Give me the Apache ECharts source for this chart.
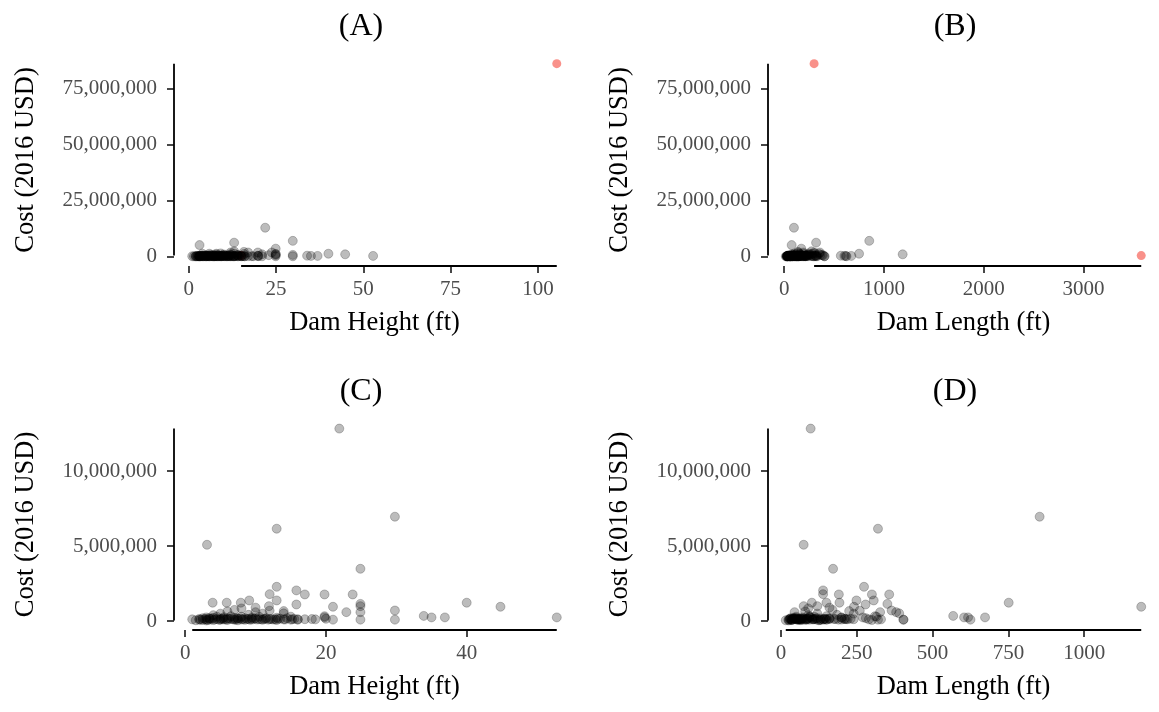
<!DOCTYPE html>
<html>
<head>
<meta charset="utf-8">
<script src="https://cdn.jsdelivr.net/npm/echarts@6/dist/echarts.min.js"></script>
<style>html,body{margin:0;padding:0;background:#fff}#chart{width:1159px;height:712px}</style>
</head>
<body>
<div id="chart"></div>
<script>
// ---- Data ----
// Dams shown in grey (one entry per dam): height (ft), length (ft), cost (2016 USD)
const heightFt = [
  21.9, 29.8, 13.0, 3.1, 24.9, 13.0, 15.8, 12.0, 17.0, 19.8, 23.8, 13.0, 9.1, 3.9, 5.9, 7.9, 40.0,
  24.9, 15.8, 44.8, 21.0, 24.9, 11.9, 10.0, 22.9, 29.8, 24.9, 14.0, 33.9, 35.0, 36.9, 52.8, 29.8, 24.9,
  1.0, 1.5, 2.0, 2.0, 2.5, 2.5, 3.0, 3.0, 3.0, 3.5, 3.5, 4.0, 4.0, 4.0, 4.5, 4.5, 5.0, 5.0, 5.0,
  5.5, 5.5, 6.0, 6.0, 6.0, 6.5, 6.5, 7.0, 7.0, 7.0, 7.5, 7.5, 8.0, 8.0, 8.0, 8.5, 8.5, 9.0, 9.0,
  9.5, 9.5, 10.0, 10.0, 10.5, 10.5, 11.0, 11.0, 11.5, 12.0, 12.0, 12.5, 13.0, 13.0, 13.5, 14.0, 14.0,
  14.5, 15.0, 15.0, 15.5, 16.0, 16.0, 17.0, 18.0, 18.5, 19.8, 19.8, 20.0, 21.0,
  2.2, 2.8, 3.2, 3.8, 4.2, 4.8, 5.2, 5.8, 6.2, 6.8, 7.2, 7.8, 8.2, 8.8, 9.2, 9.8, 10.2, 10.8,
  11.2, 11.8, 12.2, 12.8, 13.2, 14.2, 15.2, 3.4, 5.4, 7.4, 9.4, 11.4
];
const lengthFt = [
  98, 853, 320, 75, 172, 274, 139, 139, 191, 300, 357, 249, 306, 102, 150, 193, 751,
  351, 279, 1188, 241, 75, 120, 160, 327, 365, 380, 390, 568, 604, 617, 673, 625, 404,
  25, 16, 30, 55, 45, 35, 60, 70, 25, 40, 85, 50, 65, 90, 30, 110, 45, 75, 120,
  55, 95, 40, 130, 80, 60, 150, 35, 100, 170, 70, 125, 50, 140, 90, 160, 65, 110, 185,
  80, 200, 130, 45, 215, 95, 150, 240, 120, 175, 260, 85, 200, 300, 145, 225, 105,
  280, 190, 315, 160, 330, 404, 240, 210, 290, 310, 270, 230, 320,
  35, 50, 28, 45, 60, 38, 70, 55, 85, 48, 95, 75, 110, 65, 120, 90, 140, 105,
  160, 130, 180, 150, 210, 200, 220, 32, 62, 88, 115, 145
];
const costUSD = [
  12830000, 6960000, 6160000, 5090000, 3490000, 2290000, 2050000, 1800000, 1780000, 1780000, 1780000,
  1380000, 1380000, 1230000, 1230000, 1230000, 1230000,
  1150000, 1110000, 960000, 960000, 1000000, 1000000, 900000, 600000, 710000, 600000, 520000,
  350000, 250000, 250000, 250000, 100000, 100000,
  120000, 60000, 150000, 90000, 200000, 80000, 130000, 250000, 50000, 180000, 100000, 220000, 70000,
  400000, 140000, 300000, 160000, 90000, 500000,
  110000, 260000, 190000, 80000, 650000, 140000, 330000, 100000, 220000, 750000, 170000, 60000,
  300000, 120000, 850000, 200000, 90000, 150000, 420000,
  110000, 250000, 180000, 600000, 130000, 300000, 90000, 500000, 200000, 140000, 700000, 110000,
  230000, 80000, 160000, 670000, 120000,
  200000, 100000, 300000, 150000, 120000, 100000, 130000, 140000, 120000, 330000, 250000, 160000, 100000,
  100000, 140000, 80000, 160000, 120000, 90000, 150000, 110000, 170000, 130000, 100000, 180000,
  120000, 140000, 90000, 160000, 110000, 130000, 150000, 100000, 140000, 120000, 160000, 110000,
  130000, 200000, 180000, 190000, 170000, 150000
];
// Outlier dams highlighted in red in panels A and B
const outlierHeightFt = [105.4, 15.0];
const outlierLengthFt = [300, 3580];
const outlierCostUSD = [86000000, 400000];

// Tick labels
const ticksA_x = [0, 25, 50, 75, 100];
const ticksB_x = [0, 1000, 2000, 3000];
const ticksC_x = [0, 20, 40];
const ticksD_x = [0, 250, 500, 750, 1000];
const ticksAB_y = [0, 25000000, 50000000, 75000000];
const ticksCD_y = [0, 5000000, 10000000];

const panelTitles = ['(A)', '(B)', '(C)', '(D)'];
const xTitles = ['Dam Height (ft)', 'Dam Length (ft)', 'Dam Height (ft)', 'Dam Length (ft)'];
const yTitle = 'Cost (2016 USD)';

// ---- helpers ----
const zip = (a, b) => a.map((v, i) => [v, b[i]]);
function padRange(vals) {
  const lo = Math.min(...vals), hi = Math.max(...vals), p = (hi - lo) * 0.05;
  return [lo - p, hi + p];
}
const fmtComma = v => String(Math.round(v)).replace(/\B(?=(\d{3})+(?!\d))/g, ',');
const fmtPlain = v => String(Math.round(v));

const SERIF = 'Liberation Serif, Times New Roman, serif';
const grids = [
  { left: 174, top: 54, width: 401, height: 212 },
  { left: 768, top: 54, width: 401, height: 212 },
  { left: 174, top: 419, width: 401, height: 211 },
  { left: 768, top: 419, width: 401, height: 211 }
];

const panels = [
  { x: heightFt, y: costUSD, ox: outlierHeightFt, oy: outlierCostUSD, xt: ticksA_x, yt: ticksAB_y, frameFromOutliers: true },
  { x: lengthFt, y: costUSD, ox: outlierLengthFt, oy: outlierCostUSD, xt: ticksB_x, yt: ticksAB_y, frameFromOutliers: true },
  { x: heightFt, y: costUSD, ox: [], oy: [], xt: ticksC_x, yt: ticksCD_y, frameFromOutliers: false },
  { x: lengthFt, y: costUSD, ox: [], oy: [], xt: ticksD_x, yt: ticksCD_y, frameFromOutliers: false }
];

const xAxes = [], yAxes = [], series = [], titles = [];
const titleCenters = [[356, 6], [950, 6], [356, 371], [950, 371]];
const lineColor = '#000';

panels.forEach((p, i) => {
  const xr = padRange(p.x.concat(p.ox));
  const yr = padRange(p.y.concat(p.oy));
  const fx = p.frameFromOutliers ? p.ox : p.x;
  const fy = p.frameFromOutliers ? p.oy : p.y;
  xAxes.push({
    gridIndex: i, type: 'value', min: xr[0], max: xr[1], position: 'bottom',
    axisLine: { show: false, onZero: false },
    splitLine: { show: false },
    axisTick: { show: true, length: 7, customValues: p.xt, lineStyle: { color: '#333', width: 1.8 } },
    axisLabel: { customValues: p.xt, margin: 13, color: '#4D4D4D', fontFamily: SERIF, fontSize: 21, formatter: fmtPlain },
    name: xTitles[i], nameLocation: 'middle', nameGap: 44,
    nameTextStyle: { color: '#000', fontFamily: SERIF, fontSize: 26.5 }
  });
  yAxes.push({
    gridIndex: i, type: 'value', min: yr[0], max: yr[1], position: 'left',
    axisLine: { show: false, onZero: false },
    splitLine: { show: false },
    axisTick: { show: true, length: 7, customValues: p.yt, lineStyle: { color: '#333', width: 1.8 } },
    axisLabel: { customValues: p.yt, margin: 17, color: '#4D4D4D', fontFamily: SERIF, fontSize: 21, formatter: fmtComma },
    name: yTitle, nameLocation: 'middle', nameGap: 134,
    nameTextStyle: { color: '#000', fontFamily: SERIF, fontSize: 26.5 }
  });
  // red highlighted dams (drawn underneath)
  if (p.ox.length) {
    series.push({
      type: 'scatter', xAxisIndex: i, yAxisIndex: i, z: 1,
      data: zip(p.ox, p.oy), symbolSize: 9, silent: true,
      itemStyle: { color: '#F8766D' }
    });
  }
  series.push({
    type: 'scatter', xAxisIndex: i, yAxisIndex: i, z: 2,
    data: zip(p.x, p.y), symbolSize: 9, silent: true,
    itemStyle: { color: 'rgba(0,0,0,0.33)', borderColor: 'rgba(0,0,0,0.28)', borderWidth: 1 }
  });
  // range-frame axis lines
  series.push({
    type: 'line', xAxisIndex: i, yAxisIndex: i, z: 3, clip: false, silent: true,
    symbol: 'none', lineStyle: { color: lineColor, width: 1.8 },
    data: [[Math.min(...fx), yr[0]], [Math.max(...fx), yr[0]]]
  });
  series.push({
    type: 'line', xAxisIndex: i, yAxisIndex: i, z: 3, clip: false, silent: true,
    symbol: 'none', lineStyle: { color: lineColor, width: 1.8 },
    data: [[xr[0], Math.min(...fy)], [xr[0], Math.max(...fy)]]
  });
  titles.push({
    text: panelTitles[i], left: titleCenters[i][0], top: titleCenters[i][1], textAlign: 'center',
    textStyle: { fontFamily: SERIF, fontSize: 32, fontWeight: 'normal', color: '#000' }
  });
});

const chart = echarts.init(document.getElementById('chart'), null, { renderer: 'canvas' });
chart.setOption({
  animation: false,
  backgroundColor: '#fff',
  title: titles,
  grid: grids,
  xAxis: xAxes,
  yAxis: yAxes,
  series: series
});
</script>
</body>
</html>
